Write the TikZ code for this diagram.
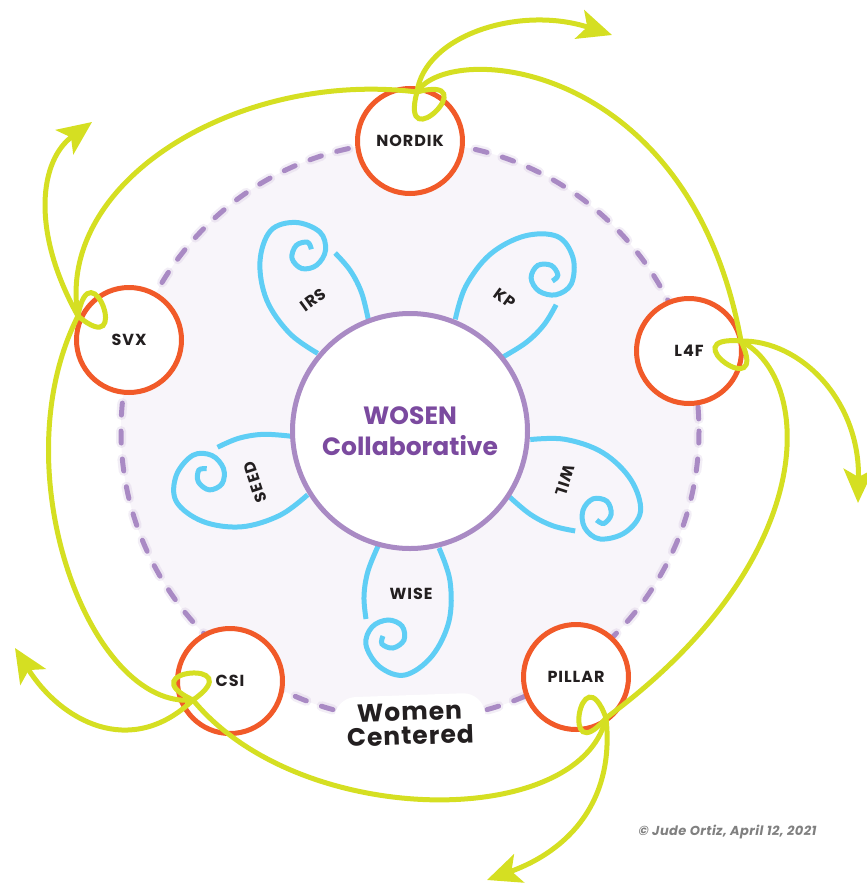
\documentclass[tikz,border=0pt]{standalone}
\usepackage{fontspec}
\setmainfont{Poppins}
\usetikzlibrary{arrows.meta, calc}
\definecolor{vine}{HTML}{D5DF22}
\definecolor{ember}{HTML}{F15A29}
\definecolor{sky}{HTML}{5FCEF5}
\definecolor{lilac}{HTML}{A98AC4}
\definecolor{plum}{HTML}{7B4A9F}
\definecolor{mist}{HTML}{F8F5FA}
\definecolor{ink}{HTML}{231F20}
\tikzset{
	org/.style={circle, draw=ember, fill=white, line width=5pt, minimum size=105pt, inner sep=0pt,
		text=ink, font=\fontsize{16}{18}\selectfont\bfseries\addfontfeatures{LetterSpace=6}},
	petal/.style={draw=sky, line width=5pt},
	petaltext/.style={text=ink, font=\fontsize{16}{18}\selectfont\bfseries\addfontfeatures{LetterSpace=6}},
	tendril/.style={draw=vine, line width=5pt, line cap=round},
	sprout/.style={tendril, -{Stealth[length=34pt, width=30pt, inset=8pt]}}
}

\begin{document}
\begin{tikzpicture}[x=1pt, y=-1pt]
	\def\Rring{289}
	\def\Rhub{235}
	\def\lp{72}
	\useasboundingbox (0,0) rectangle (867,889);
	\coordinate (O) at (410,431);

	\fill[mist]	(O) circle (\Rring);
	\draw[lilac, opacity=.15, line width=10pt, dash pattern=on 12pt off 16pt, line cap=round]	(O) circle (\Rring);
	\draw[lilac, line width=5pt, dash pattern=on 12pt off 16pt, line cap=round]	(O) circle (\Rring);

	\node[fill=white, rounded corners=22pt, align=center, rotate=2, inner xsep=12pt, inner ysep=8pt,
		text=ink, font=\fontsize{25}{24}\selectfont\bfseries\addfontfeatures{LetterSpace=4}] (wc) at (410,724) {Women\\Centered};

	\foreach \ang/\lbl/\rot in {126/IRS/36, 54/KP/-36, -18/WIL/-108, -90/WISE/0, 198/SEED/108}{
		\begin{scope}[shift={(O)}, x=1pt, y=1pt, rotate=\ang]
			\draw[petal] plot[smooth, tension=.6] coordinates {(117,29) (150,40) (190,39) (225,22) (244,-5) (236,-30) (214,-44) (196,-38) (189,-22) (195,-8) (209,-6) (217,-17) (213,-28) (205,-27)};
			\draw[petal] plot[smooth, tension=.6] coordinates {(113,-31) (140,-42) (165,-46) (188,-44)};
			\node[petaltext, rotate=\rot] (p\lbl) at (163,1) {\lbl};
		\end{scope}
	}

	\node[circle, draw=lilac, fill=white, line width=5pt, minimum size=\Rhub pt, inner sep=0pt, align=center,
		text=plum, font=\fontsize{25}{31}\selectfont\bfseries] (hub) at (O) {WOSEN\\Collaborative};

	\node[org] (nordik) at (410,141) {NORDIK};
	\node[org] (l4f) at (689,351) {L4F};
	\node[org] (pillar) at (576,677) {PILLAR};
	\node[org] (csi) at (230,681) {CSI};
	\node[org] (svx) at (129,340) {SVX};

	\coordinate (cN) at (417,92);
	\coordinate (cL) at (741,341);
	\coordinate (cP) at (606,718);
	\coordinate (cC) at (193,700);
	\coordinate (cS) at (78,316);
	\coordinate (tN) at (612,35);
	\coordinate (tL) at (858,503);
	\coordinate (tP) at (487,880);
	\coordinate (tC) at (15,648);
	\coordinate (tS) at (92,122);

	\draw[tendril]	(cS) .. controls (55,180) and (240,70) .. (cN);
	\draw[tendril]	(cN) .. controls (450,40) and (690,60) .. (cL);
	\draw[tendril]	(cL) .. controls (815,380) and (820,560) .. (cP);
	\draw[tendril]	(cP) .. controls (580,830) and (300,830) .. (cC);
	\draw[tendril]	(cC) .. controls (90,710) and (0,470) .. (cS);

	\foreach \c/\th in {cN/45, cL/125, cP/190, cC/265, cS/340}
		\draw[tendril]	(\c) .. controls ($(\c)+(\th-60:\lp)$) and ($(\c)+(\th+60:\lp)$) .. (\c);

	\draw[sprout]	(cN) .. controls (425,35) and (520,5) .. (tN);
	\draw[sprout]	(cL) .. controls (800,340) and (860,400) .. (tL);
	\draw[sprout]	(cP) .. controls (615,800) and (570,850) .. (tP);
	\draw[sprout]	(cC) .. controls (130,760) and (60,720) .. (tC);
	\draw[sprout]	(cS) .. controls (30,230) and (40,160) .. (tS);

	\node[anchor=east, text=black!50, font=\fontsize{13}{15}\selectfont\bfseries\itshape\addfontfeatures{LetterSpace=3}] (credit) at (820,832) {© Jude Ortiz, April 12, 2021};
\end{tikzpicture}
\end{document}
